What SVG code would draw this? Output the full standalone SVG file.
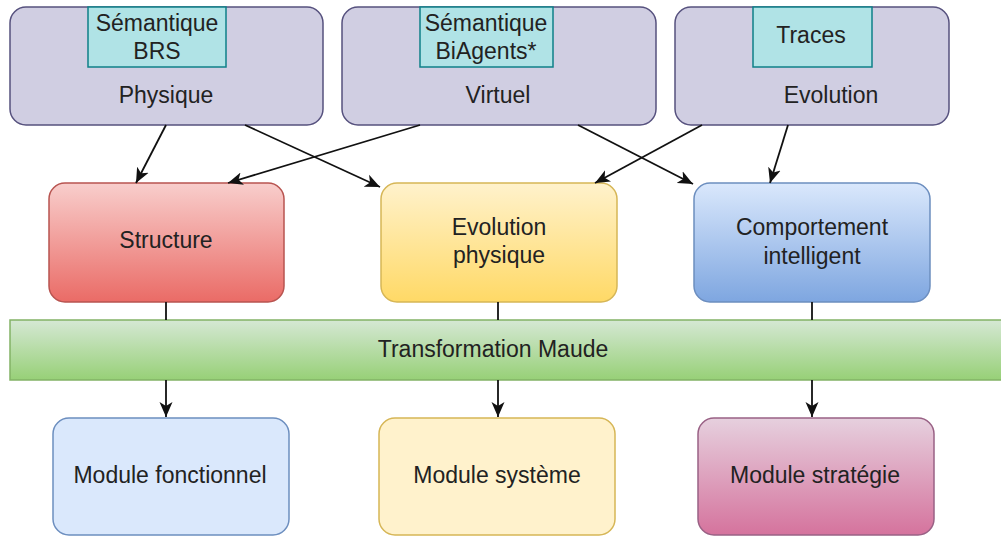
<svg xmlns="http://www.w3.org/2000/svg" width="1001" height="536" viewBox="0 0 1001 536">
<style>
text{font-family:"Liberation Sans",Arial,sans-serif;font-size:23px;fill:#222;text-anchor:middle}
.top{fill:#d0cee2;stroke:#56517e;stroke-width:1.5}
.teal{fill:#b0e3e6;stroke:#0e8088;stroke-width:1.5}
.c{stroke:#111;stroke-width:1.8;fill:none}
</style>
<defs>
<marker id="ah" markerWidth="16" markerHeight="14" refX="15" refY="7" orient="auto" markerUnits="userSpaceOnUse">
<path d="M0,0.5 L15,7 L0,13.5 L4,7 Z" fill="#111"/>
</marker>
<linearGradient id="gRed" x1="0" y1="0" x2="0" y2="1"><stop offset="0" stop-color="#f8cecc"/><stop offset="1" stop-color="#ea6b66"/></linearGradient>
<linearGradient id="gYel" x1="0" y1="0" x2="0" y2="1"><stop offset="0" stop-color="#fff2cc"/><stop offset="1" stop-color="#ffd966"/></linearGradient>
<linearGradient id="gBlu" x1="0" y1="0" x2="0" y2="1"><stop offset="0" stop-color="#dae8fc"/><stop offset="1" stop-color="#7ea6e0"/></linearGradient>
<linearGradient id="gGrn" x1="0" y1="0" x2="0" y2="1"><stop offset="0" stop-color="#d5e8d4"/><stop offset="1" stop-color="#97d077"/></linearGradient>
<linearGradient id="gPnk" x1="0" y1="0" x2="0" y2="1"><stop offset="0" stop-color="#e6d0de"/><stop offset="1" stop-color="#d5739d"/></linearGradient>
</defs>
<rect width="1001" height="536" fill="#fff"/>

<g id="physique">
<rect class="top" x="10" y="7" width="313" height="118" rx="16"/>
<rect class="teal" x="88" y="7" width="138" height="60"/>
<text x="157" y="31">Sémantique</text>
<text x="157" y="59">BRS</text>
<text x="166" y="103">Physique</text>
</g>
<g id="virtuel">
<rect class="top" x="342" y="7" width="314" height="118" rx="16"/>
<rect class="teal" x="420" y="7" width="133" height="60"/>
<text x="486" y="31">Sémantique</text>
<text x="486" y="59">BiAgents*</text>
<text x="498" y="103">Virtuel</text>
</g>
<g id="evolution">
<rect class="top" x="675" y="7" width="274" height="118" rx="16"/>
<rect class="teal" x="753" y="7" width="119" height="60"/>
<text x="811" y="43">Traces</text>
<text x="831" y="103">Evolution</text>
</g>

<g id="structure">
<rect x="49" y="183" width="235" height="119" rx="16" fill="url(#gRed)" stroke="#b85450" stroke-width="1.5"/>
<text x="166" y="248">Structure</text>
</g>
<g id="evolution-physique">
<rect x="381" y="183" width="236" height="119" rx="16" fill="url(#gYel)" stroke="#d6b656" stroke-width="1.5"/>
<text x="499" y="235">Evolution</text>
<text x="499" y="263">physique</text>
</g>
<g id="comportement">
<rect x="694" y="183" width="236" height="119" rx="16" fill="url(#gBlu)" stroke="#6c8ebf" stroke-width="1.5"/>
<text x="812" y="235">Comportement</text>
<text x="812" y="264">intelligent</text>
</g>

<g id="transformation">
<rect x="10" y="320" width="995" height="60" fill="url(#gGrn)" stroke="#82b366" stroke-width="1.5"/>
<text x="493" y="357">Transformation Maude</text>
</g>

<g id="module-fonctionnel">
<rect x="53" y="418" width="236" height="117" rx="16" fill="#dae8fc" stroke="#6c8ebf" stroke-width="1.5"/>
<text x="170" y="483">Module fonctionnel</text>
</g>
<g id="module-systeme">
<rect x="379" y="418" width="236" height="117" rx="16" fill="#fff2cc" stroke="#d6b656" stroke-width="1.5"/>
<text x="497" y="483">Module système</text>
</g>
<g id="module-strategie">
<rect x="698" y="418" width="236" height="117" rx="16" fill="url(#gPnk)" stroke="#996185" stroke-width="1.5"/>
<text x="815" y="483">Module stratégie</text>
</g>

<g id="connectors">
<line class="c" x1="166" y1="125" x2="136" y2="183" marker-end="url(#ah)"/>
<line class="c" x1="245" y1="125" x2="380" y2="187" marker-end="url(#ah)"/>
<line class="c" x1="420" y1="125" x2="228" y2="183" marker-end="url(#ah)"/>
<line class="c" x1="578" y1="125" x2="693" y2="184" marker-end="url(#ah)"/>
<line class="c" x1="702" y1="125" x2="595" y2="183" marker-end="url(#ah)"/>
<line class="c" x1="788" y1="125" x2="770" y2="183" marker-end="url(#ah)"/>
<line class="c" x1="166" y1="302" x2="166" y2="320"/>
<line class="c" x1="498" y1="302" x2="498" y2="320"/>
<line class="c" x1="812" y1="302" x2="812" y2="320"/>
<line class="c" x1="166" y1="380" x2="166" y2="417" marker-end="url(#ah)"/>
<line class="c" x1="498" y1="380" x2="498" y2="417" marker-end="url(#ah)"/>
<line class="c" x1="812" y1="380" x2="812" y2="417" marker-end="url(#ah)"/>
</g>
</svg>
